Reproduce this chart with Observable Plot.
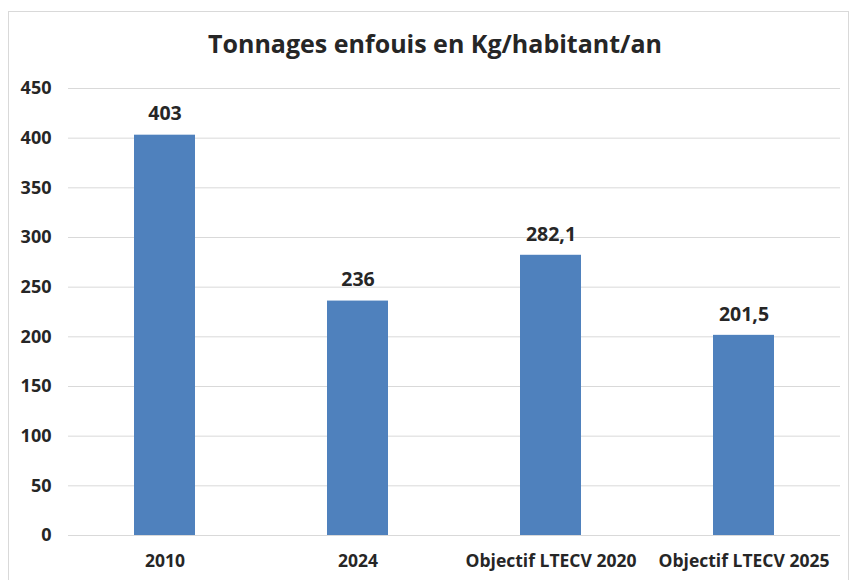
<!DOCTYPE html>
<html>
<head>
<meta charset="utf-8">
<script src="https://cdn.jsdelivr.net/npm/d3@7"></script>
<script src="https://cdn.jsdelivr.net/npm/@observablehq/plot@0.6"></script>
<style>
  html, body { margin: 0; padding: 0; background: #fff; }
  #wrap { position: relative; width: 854px; height: 580px; overflow: hidden; font-family: "Open Sans", sans-serif; }
  #frame { position: absolute; left: 8px; top: 11px; width: 841px; height: 600px; border: 1px solid #d9d9d9; box-sizing: border-box; }
  #title { position: absolute; left: 0; top: 25px; width: 870px; text-align: center; font-size: 25px; font-weight: bold; color: #262626; line-height: 36px; }
  #chart { position: absolute; left: 0; top: 0; }
</style>
</head>
<body>
<div id="wrap">
  <div id="frame"></div>
  <div id="title">Tonnages enfouis en Kg/habitant/an</div>
  <div id="chart"></div>
</div>
<script>
const categories = ["2010", "2024", "Objectif LTECV 2020", "Objectif LTECV 2025"];
const values = [403, 236, 282.1, 201.5];
const valueLabels = ["403", "236", "282,1", "201,5"];
const yTicks = [0, 50, 100, 150, 200, 250, 300, 350, 400, 450];

const data = categories.map((c, i) => ({category: c, value: values[i], label: valueLabels[i]}));

const chart = Plot.plot({
  width: 854,
  height: 580,
  marginLeft: 68,
  marginRight: 14,
  marginTop: 88,
  marginBottom: 45,
  style: {fontFamily: "Open Sans, sans-serif", fontSize: "17px", fontWeight: "bold", color: "#262626", background: "transparent"},
  x: {domain: categories, paddingInner: 0.684, paddingOuter: 0.342, label: null},
  y: {domain: [0, 450], label: null},
  marks: [
    Plot.gridY(yTicks, {stroke: "#d9d9d9", strokeOpacity: 1, strokeWidth: 1}),
    Plot.barY(data, {x: "category", y: "value", fill: "#4F81BD"}),
    Plot.text(data, {x: "category", y: "value", text: "label", dy: -21, fontSize: 19.5, fontWeight: "bold", fill: "#262626"}),
    Plot.axisY(yTicks, {tickSize: 0, tickPadding: 17, label: null, fontSize: 18, fontWeight: "bold", fill: "#262626"}),
    Plot.axisX({tickSize: 0, tickPadding: 19, label: null, fontSize: 17.5, fontWeight: "bold", fill: "#262626"})
  ]
});
document.getElementById("chart").appendChild(chart);
</script>
</body>
</html>
